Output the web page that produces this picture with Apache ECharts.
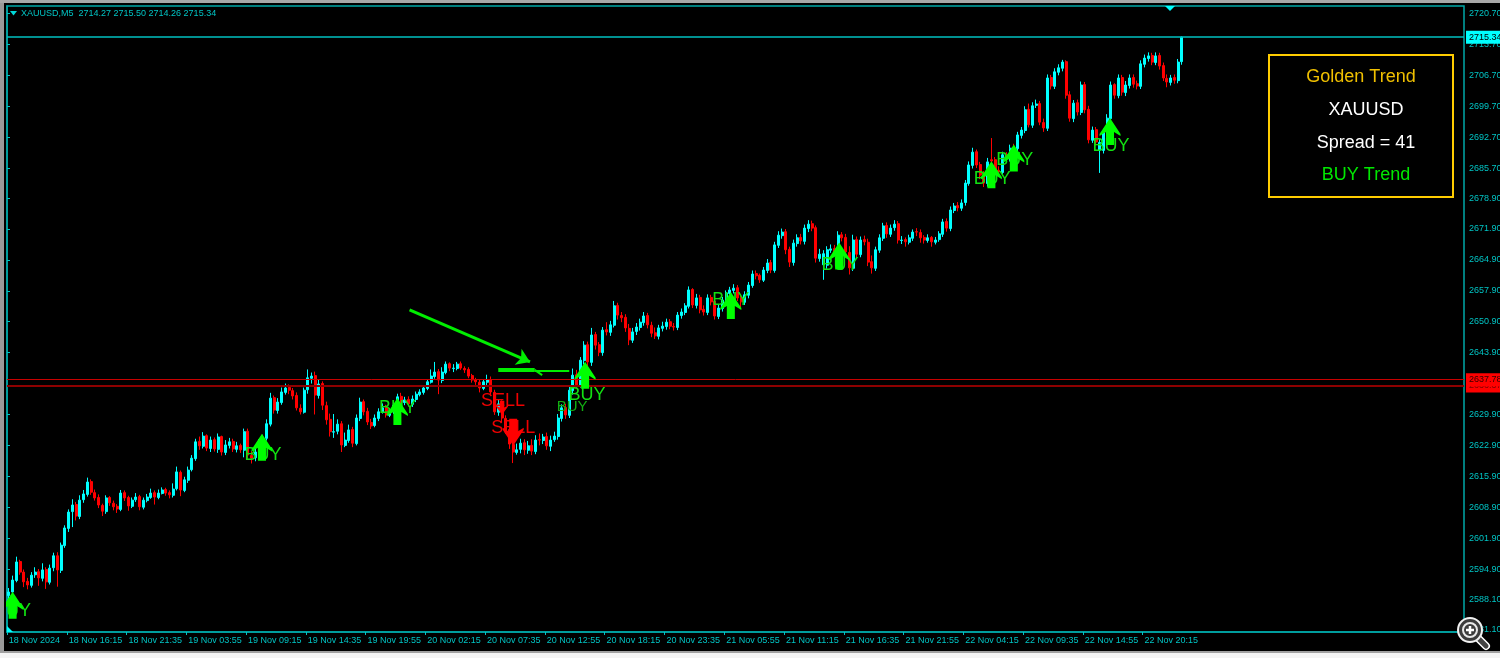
<!DOCTYPE html>
<html>
<head>
<meta charset="utf-8">
<style>
html, body { margin: 0; padding: 0; background: #000; }
#main { width: 1500px; height: 658px; }
</style>
<script src="https://cdn.jsdelivr.net/npm/echarts@6/dist/echarts.min.js"></script>
</head>
<body>
<div id="main"></div>
<script>
// one candle here stands for four M5 bars of the original, sixteen per date label
var dateLabels = ['18 Nov 2024', '18 Nov 16:15', '18 Nov 21:35', '19 Nov 03:55', '19 Nov 09:15', '19 Nov 14:35', '19 Nov 19:55',
    '20 Nov 02:15', '20 Nov 07:35', '20 Nov 12:55', '20 Nov 18:15', '20 Nov 23:35', '21 Nov 05:55', '21 Nov 11:15', '21 Nov 16:35',
    '21 Nov 21:55', '22 Nov 04:15', '22 Nov 09:35', '22 Nov 14:55', '22 Nov 20:15'];
var priceTicks = [2720.7, 2713.7, 2706.7, 2699.7, 2692.7, 2685.7, 2678.9, 2671.9, 2664.9, 2657.9, 2650.9, 2643.9,
    2629.9, 2622.9, 2615.9, 2608.9, 2601.9, 2594.9, 2588.1, 2581.1];

var closes = [
    2589.7, 2592.4, 2596.5, 2594.2, 2592.0, 2591.3, 2593.5, 2594.2, 2592.9, 2594.7, 2592.0, 2595.1, 2597.9, 2594.7, 2600.3, 2604.2,
    2607.8, 2609.4, 2606.9, 2610.5, 2611.9, 2614.6, 2612.3, 2611.0, 2609.4, 2608.0, 2611.0, 2609.9, 2609.0, 2608.5, 2612.1, 2611.0,
    2609.2, 2610.5, 2611.2, 2609.0, 2610.5, 2611.2, 2612.1, 2611.2, 2612.1, 2612.8, 2612.1, 2611.7, 2613.0, 2616.9, 2612.8, 2615.1,
    2617.3, 2620.0, 2623.7, 2622.8, 2625.0, 2622.3, 2624.1, 2622.1, 2624.8, 2621.4, 2623.0, 2623.7, 2622.1, 2622.8, 2621.9, 2626.0,
    2620.7, 2620.0, 2621.4, 2623.0, 2624.6, 2627.8, 2633.6, 2630.9, 2632.7, 2635.0, 2635.9, 2635.4, 2634.1, 2631.4, 2630.5, 2635.4,
    2638.2, 2638.6, 2634.3, 2636.8, 2632.0, 2628.7, 2626.0, 2626.0, 2627.7, 2623.0, 2624.1, 2626.4, 2623.4, 2629.1, 2632.7, 2630.5,
    2628.2, 2627.3, 2629.1, 2630.5, 2631.4, 2629.8, 2630.5, 2632.0, 2633.9, 2632.7, 2633.2, 2632.3, 2633.4, 2634.5, 2635.0, 2635.9,
    2637.3, 2638.6, 2639.5, 2637.7, 2639.5, 2641.3, 2640.4, 2640.4, 2641.3, 2640.4, 2640.0, 2638.6, 2637.7, 2637.3, 2635.9, 2637.3,
    2637.7, 2635.0, 2630.5, 2632.3, 2629.1, 2626.4, 2623.2, 2621.4, 2621.9, 2623.4, 2621.9, 2622.8, 2621.6, 2624.1, 2624.1, 2624.8,
    2622.8, 2624.1, 2625.0, 2629.1, 2631.4, 2629.8, 2635.4, 2638.8, 2636.6, 2642.2, 2645.6, 2641.8, 2647.9, 2645.6, 2644.0, 2649.0,
    2648.6, 2650.2, 2654.5, 2652.4, 2651.8, 2649.5, 2646.8, 2648.6, 2649.7, 2650.8, 2652.2, 2650.2, 2648.3, 2647.7, 2649.5, 2649.9,
    2650.8, 2649.9, 2649.7, 2652.4, 2653.1, 2654.5, 2658.1, 2654.7, 2656.3, 2653.6, 2653.1, 2656.3, 2655.4, 2652.2, 2654.0, 2655.8,
    2657.4, 2658.1, 2658.5, 2656.3, 2655.4, 2657.0, 2659.2, 2661.7, 2661.3, 2660.4, 2662.6, 2664.2, 2662.6, 2668.3, 2670.5, 2671.2,
    2667.2, 2664.4, 2668.7, 2669.9, 2669.2, 2672.1, 2673.0, 2672.1, 2665.3, 2666.2, 2666.3, 2667.2, 2667.4, 2666.7, 2670.5, 2669.9,
    2666.7, 2663.1, 2669.4, 2666.2, 2669.4, 2669.0, 2664.4, 2663.1, 2667.2, 2669.9, 2672.6, 2670.8, 2672.1, 2673.0, 2669.4, 2669.4,
    2669.0, 2669.9, 2671.2, 2671.2, 2669.9, 2669.4, 2669.9, 2669.0, 2669.4, 2670.8, 2673.5, 2672.1, 2676.2, 2677.1, 2676.7, 2677.8,
    2682.3, 2686.4, 2689.3, 2686.4, 2684.1, 2682.3, 2687.1, 2687.3, 2685.3, 2684.8, 2688.7, 2688.0, 2690.2, 2690.2, 2693.2, 2694.3,
    2698.9, 2695.5, 2699.8, 2700.2, 2696.1, 2694.8, 2706.1, 2704.3, 2707.5, 2708.4, 2709.7, 2702.2, 2697.0, 2700.4, 2698.4, 2704.5,
    2698.9, 2692.1, 2694.3, 2691.6, 2691.5, 2693.9, 2697.0, 2704.5, 2702.2, 2706.1, 2702.9, 2704.5, 2706.1, 2704.7, 2704.3, 2709.3,
    2710.6, 2711.1, 2709.7, 2711.1, 2708.8, 2706.1, 2705.2, 2706.1, 2705.6, 2709.7, 2715.34
];
var opens = [
    2588.9, 2589.7, 2592.3, 2596.6, 2594.2, 2592.1, 2591.2, 2593.6, 2594.3, 2592.8, 2594.8, 2591.9, 2595.2, 2597.9, 2594.6, 2600.2,
    2604.1, 2607.9, 2609.5, 2606.8, 2610.6, 2611.8, 2614.7, 2612.2, 2611.1, 2609.3, 2607.9, 2611.1, 2609.8, 2609.1, 2608.4, 2612.2,
    2611.1, 2609.1, 2610.6, 2611.3, 2608.9, 2610.4, 2611.1, 2612.2, 2611.1, 2612.0, 2612.9, 2612.2, 2611.6, 2613.1, 2616.8, 2612.7,
    2615.0, 2617.4, 2619.9, 2623.8, 2622.7, 2625.1, 2622.2, 2624.2, 2622.0, 2624.9, 2621.3, 2622.9, 2623.8, 2622.0, 2622.9, 2621.8,
    2626.1, 2620.6, 2620.1, 2621.3, 2622.9, 2624.5, 2627.7, 2633.7, 2630.8, 2632.6, 2634.9, 2636.0, 2635.3, 2634.2, 2631.3, 2630.4,
    2635.5, 2638.1, 2638.7, 2634.2, 2636.9, 2631.9, 2628.8, 2625.9, 2626.1, 2627.8, 2622.9, 2624.0, 2626.5, 2623.3, 2629.0, 2632.8,
    2630.6, 2628.1, 2627.4, 2629.0, 2630.4, 2631.5, 2629.7, 2630.6, 2631.9, 2634.0, 2632.6, 2633.3, 2632.2, 2633.3, 2634.4, 2634.9,
    2635.8, 2637.2, 2638.5, 2639.6, 2637.6, 2639.4, 2641.4, 2640.3, 2640.3, 2641.4, 2640.3, 2640.1, 2638.7, 2637.8, 2637.2, 2635.8,
    2637.2, 2637.8, 2634.9, 2630.4, 2632.4, 2629.0, 2626.5, 2623.1, 2621.3, 2622.0, 2623.5, 2621.8, 2622.9, 2621.5, 2624.2, 2624.0,
    2624.9, 2622.7, 2624.2, 2624.9, 2629.0, 2631.5, 2629.7, 2635.3, 2638.9, 2636.5, 2642.1, 2645.7, 2641.7, 2648.0, 2645.7, 2643.9,
    2649.1, 2648.5, 2650.1, 2654.6, 2652.3, 2651.9, 2649.4, 2646.7, 2648.7, 2649.6, 2650.7, 2652.3, 2650.1, 2648.4, 2647.6, 2649.4,
    2649.8, 2650.9, 2649.8, 2649.6, 2652.3, 2653.0, 2654.4, 2658.2, 2654.6, 2656.4, 2653.7, 2653.0, 2656.4, 2655.5, 2652.1, 2653.9,
    2655.7, 2657.3, 2658.0, 2658.6, 2656.4, 2655.3, 2656.9, 2659.1, 2661.8, 2661.4, 2660.3, 2662.5, 2664.3, 2662.5, 2668.2, 2670.4,
    2671.3, 2667.3, 2664.3, 2668.6, 2670.0, 2669.1, 2672.0, 2673.1, 2672.2, 2665.2, 2663.8, 2663.7, 2667.1, 2667.5, 2666.6, 2670.6,
    2670.0, 2666.6, 2663.0, 2669.5, 2666.1, 2669.5, 2668.9, 2664.5, 2663.0, 2667.1, 2669.8, 2672.7, 2670.7, 2672.2, 2673.1, 2669.3,
    2669.5, 2668.9, 2669.8, 2671.3, 2671.1, 2670.0, 2669.3, 2670.0, 2668.9, 2669.5, 2670.7, 2673.6, 2672.0, 2676.1, 2677.2, 2676.6,
    2677.9, 2682.2, 2686.3, 2689.4, 2686.5, 2684.0, 2682.2, 2687.6, 2687.6, 2685.2, 2684.7, 2688.8, 2687.9, 2690.3, 2690.1, 2693.1,
    2694.2, 2699.0, 2695.4, 2699.9, 2700.3, 2696.0, 2694.7, 2706.2, 2704.2, 2707.4, 2708.3, 2709.8, 2702.3, 2696.9, 2700.5, 2698.3,
    2704.6, 2699.0, 2692.0, 2694.4, 2689.8, 2689.7, 2693.8, 2696.9, 2704.6, 2702.1, 2706.2, 2702.8, 2704.4, 2706.2, 2704.8, 2704.2,
    2709.2, 2710.5, 2711.2, 2709.6, 2711.2, 2708.9, 2706.0, 2705.1, 2706.2, 2705.5, 2709.8
];
var highs = [
    2590.6, 2593.4, 2597.7, 2597.0, 2594.8, 2592.9, 2594.2, 2595.3, 2594.9, 2596.2, 2595.3, 2595.9, 2598.6, 2598.7, 2600.9, 2604.8,
    2608.4, 2610.7, 2610.1, 2611.6, 2612.8, 2615.6, 2615.2, 2612.9, 2611.8, 2609.7, 2611.6, 2611.4, 2610.4, 2609.6, 2612.8, 2612.7,
    2611.5, 2611.1, 2612.1, 2611.7, 2611.1, 2611.9, 2613.1, 2612.7, 2612.9, 2613.4, 2613.3, 2612.7, 2614.3, 2618.1, 2617.2, 2615.8,
    2618.1, 2620.7, 2624.4, 2624.9, 2625.9, 2625.4, 2624.9, 2624.7, 2625.6, 2625.1, 2624.1, 2624.6, 2624.4, 2623.7, 2623.3, 2626.7,
    2626.7, 2621.6, 2622.2, 2624.3, 2625.3, 2628.8, 2634.8, 2634.2, 2633.6, 2636.0, 2636.9, 2636.7, 2635.9, 2634.9, 2632.2, 2636.0,
    2640.1, 2639.4, 2639.6, 2637.9, 2637.4, 2632.8, 2630.1, 2630.0, 2628.8, 2628.4, 2625.8, 2627.6, 2627.1, 2629.9, 2633.7, 2633.3,
    2631.4, 2628.9, 2629.9, 2631.3, 2632.4, 2632.1, 2631.3, 2632.8, 2634.6, 2634.8, 2633.9, 2634.0, 2634.2, 2635.1, 2635.6, 2636.4,
    2637.9, 2640.1, 2641.8, 2640.2, 2640.6, 2641.9, 2641.7, 2641.3, 2641.8, 2641.9, 2640.8, 2640.6, 2639.1, 2638.2, 2637.8, 2637.9,
    2638.9, 2638.5, 2635.5, 2633.3, 2633.1, 2629.7, 2627.1, 2624.3, 2623.3, 2624.4, 2624.3, 2623.9, 2624.3, 2625.2, 2625.6, 2625.5,
    2625.8, 2625.1, 2626.0, 2630.0, 2632.2, 2632.3, 2636.3, 2640.3, 2640.0, 2642.9, 2646.5, 2646.4, 2649.5, 2648.6, 2646.3, 2649.7,
    2650.8, 2651.1, 2655.6, 2655.2, 2653.1, 2652.6, 2650.4, 2649.5, 2650.6, 2651.6, 2653.1, 2652.9, 2650.9, 2649.6, 2650.2, 2650.9,
    2651.6, 2651.5, 2650.6, 2653.1, 2653.9, 2655.1, 2658.9, 2658.5, 2657.2, 2657.0, 2654.6, 2657.1, 2657.0, 2656.2, 2654.7, 2656.5,
    2658.0, 2658.8, 2659.4, 2659.2, 2657.1, 2657.8, 2659.9, 2662.5, 2662.5, 2661.8, 2663.3, 2665.1, 2664.9, 2669.0, 2671.4, 2672.0,
    2671.9, 2667.9, 2669.5, 2670.7, 2670.8, 2672.9, 2673.9, 2673.8, 2672.7, 2667.4, 2667.1, 2668.0, 2668.4, 2668.3, 2671.4, 2671.2,
    2670.8, 2668.0, 2670.6, 2670.2, 2670.2, 2670.4, 2669.7, 2665.9, 2667.9, 2670.7, 2673.3, 2673.4, 2672.9, 2673.9, 2673.7, 2670.3,
    2670.0, 2670.6, 2671.8, 2672.1, 2671.8, 2670.5, 2670.7, 2670.3, 2670.1, 2671.4, 2674.2, 2674.3, 2677.0, 2677.8, 2678.0, 2678.6,
    2683.0, 2687.2, 2690.3, 2689.9, 2687.1, 2685.0, 2688.0, 2692.5, 2688.2, 2686.1, 2689.4, 2689.3, 2691.0, 2691.2, 2693.9, 2695.0,
    2699.7, 2700.3, 2700.6, 2701.2, 2700.9, 2696.9, 2706.9, 2706.8, 2708.3, 2709.2, 2710.2, 2710.1, 2703.1, 2701.1, 2701.2, 2705.3,
    2705.2, 2699.8, 2695.1, 2695.0, 2692.3, 2694.6, 2697.9, 2705.3, 2704.9, 2706.9, 2706.8, 2705.4, 2706.9, 2706.9, 2705.5, 2710.1,
    2711.4, 2711.9, 2711.8, 2711.9, 2711.8, 2709.6, 2706.9, 2706.8, 2706.9, 2710.4, 2715.5
];
var lows = [
    2587.9, 2589.2, 2591.9, 2593.6, 2590.8, 2590.3, 2590.7, 2592.9, 2591.1, 2592.1, 2590.4, 2591.4, 2594.4, 2590.9, 2594.0, 2599.7,
    2603.3, 2604.4, 2605.9, 2606.2, 2609.9, 2611.3, 2611.7, 2610.4, 2608.7, 2606.9, 2607.4, 2609.2, 2608.2, 2607.6, 2608.0, 2610.3,
    2608.1, 2608.7, 2610.1, 2608.2, 2608.4, 2610.0, 2610.8, 2609.5, 2610.7, 2611.8, 2611.5, 2610.9, 2611.1, 2612.7, 2611.4, 2612.3,
    2614.4, 2617.0, 2619.4, 2621.9, 2622.2, 2621.6, 2621.4, 2621.5, 2621.2, 2620.6, 2620.7, 2622.2, 2621.4, 2621.3, 2621.2, 2620.2,
    2619.9, 2618.8, 2619.3, 2620.4, 2622.4, 2624.0, 2627.2, 2630.1, 2630.1, 2632.1, 2634.4, 2634.5, 2633.3, 2630.8, 2629.9, 2630.1,
    2634.6, 2636.9, 2629.9, 2633.5, 2630.9, 2627.6, 2624.9, 2624.6, 2625.4, 2621.4, 2622.5, 2623.5, 2622.5, 2622.9, 2628.4, 2629.7,
    2627.5, 2626.6, 2627.0, 2628.4, 2630.1, 2629.2, 2629.3, 2630.0, 2631.3, 2631.9, 2632.0, 2631.7, 2631.6, 2632.7, 2634.0, 2634.4,
    2635.4, 2636.9, 2638.0, 2634.5, 2637.0, 2639.0, 2639.7, 2639.5, 2639.9, 2640.0, 2639.3, 2638.1, 2637.1, 2636.6, 2634.9, 2635.4,
    2636.5, 2634.3, 2629.8, 2629.6, 2628.1, 2625.5, 2622.1, 2618.9, 2620.8, 2621.1, 2620.7, 2621.0, 2620.7, 2620.9, 2622.9, 2623.2,
    2621.9, 2621.6, 2623.7, 2624.2, 2628.3, 2628.9, 2629.1, 2634.4, 2635.8, 2636.0, 2641.2, 2640.7, 2640.9, 2644.6, 2643.1, 2643.2,
    2647.8, 2647.7, 2649.6, 2651.4, 2650.8, 2648.6, 2645.6, 2646.1, 2647.9, 2648.9, 2650.0, 2649.4, 2647.4, 2647.0, 2646.9, 2648.7,
    2649.1, 2649.2, 2648.9, 2649.0, 2651.6, 2652.4, 2653.9, 2654.0, 2653.9, 2652.8, 2652.3, 2652.4, 2654.6, 2651.4, 2651.5, 2653.2,
    2655.0, 2656.6, 2657.3, 2655.6, 2654.2, 2654.7, 2656.2, 2658.6, 2660.5, 2659.7, 2659.9, 2661.9, 2661.9, 2662.0, 2667.6, 2669.7,
    2666.2, 2663.3, 2663.6, 2667.9, 2668.4, 2668.4, 2671.2, 2671.4, 2664.3, 2664.5, 2660.4, 2662.9, 2666.5, 2665.9, 2666.0, 2669.1,
    2665.9, 2661.6, 2662.4, 2665.4, 2665.5, 2668.2, 2663.5, 2661.8, 2662.4, 2666.5, 2669.2, 2669.9, 2670.1, 2671.5, 2668.6, 2668.5,
    2667.9, 2668.4, 2669.2, 2670.3, 2668.8, 2668.6, 2668.8, 2667.9, 2668.4, 2669.0, 2670.1, 2671.3, 2671.4, 2675.5, 2675.9, 2676.0,
    2677.2, 2681.7, 2685.6, 2685.7, 2683.2, 2681.4, 2681.5, 2686.6, 2684.5, 2683.9, 2684.0, 2687.2, 2687.2, 2689.4, 2689.4, 2692.4,
    2693.6, 2694.9, 2694.8, 2699.3, 2695.4, 2693.9, 2694.1, 2703.5, 2703.6, 2706.7, 2707.6, 2701.4, 2696.2, 2696.1, 2697.6, 2697.7,
    2698.1, 2691.3, 2691.4, 2690.8, 2684.6, 2689.0, 2693.1, 2696.3, 2701.4, 2701.5, 2702.1, 2702.0, 2703.7, 2703.9, 2703.5, 2703.6,
    2708.5, 2709.8, 2709.0, 2709.0, 2708.0, 2705.4, 2704.0, 2704.4, 2704.8, 2704.9, 2709.1
];

// signals: x is the M5 bar number, y is the price at the middle of the arrow
var buyArrowBars = [6, 273, 418, 619, 775, 891, 1054, 1078, 1181];
var buyArrowPrices = [2586.7, 2622.5, 2630.6, 2638.8, 2654.6, 2665.8, 2684.2, 2688.0, 2694.0];
var buyLabelBars = [6, 274, 418, 621, 775, 892, 1055, 1079, 1182];
var buyLabelPrices = [2585.4, 2620.7, 2631.4, 2634.3, 2655.8, 2663.8, 2683.2, 2687.5, 2690.7];
var buyGhostLabel = [605, 2631.6];
var sellArrowBars = [542, 530];
var sellArrowPrices = [2625.9, 2631.4];
var sellLabelBars = [542, 531];
var sellLabelPrices = [2626.9, 2633.0];

var lastPrice = 2715.34;
var askLine = 2637.78;
var bidLine = 2636.37;
var totalBars = 1560;
var slotCount = 390;

var barSlots = [];
for (var i = 0; i < slotCount; i++) {
    barSlots.push(String(i));
}
var candles = closes.map(function (c, i) {
    return [opens[i], c, lows[i], highs[i]];
});
function zipPairs(xs, ys) {
    return xs.map(function (x, i) {
        return [x, ys[i]];
    });
}
function hasDate(index) {
    return index % 16 === 0 && index / 16 < dateLabels.length;
}

var teal = '#00a8a8';
var tickText = '#00c4c4';
var fontName = '"Liberation Sans", Arial, sans-serif';
var arrowUp = 'path://M10.5 0 L21 16 L21 18 L14.5 14 L14.5 27 L6.5 27 L6.5 14 L0 18 L0 16 Z';
var arrowDown = 'path://M6.5 0 L14.5 0 L14.5 13 L21 9 L21 11 L10.5 27 L0 11 L0 9 L6.5 13 Z';

function signalLabel(text, color, size) {
    return {
        show: true,
        position: 'inside',
        formatter: text,
        color: color,
        fontSize: size,
        fontFamily: fontName,
        textBorderWidth: 0,
        textBorderColor: 'transparent',
        opacity: 1
    };
}

var myChart = echarts.init(document.getElementById('main'));
var option = {
    animation: false,
    backgroundColor: '#000',
    grid: {
        show: true,
        left: 7,
        top: 6,
        width: 1457,
        height: 626,
        outerBoundsMode: 'none',
        borderColor: teal,
        borderWidth: 1.5,
        backgroundColor: '#000'
    },
    xAxis: [{
        type: 'category',
        data: barSlots,
        boundaryGap: true,
        axisLine: { lineStyle: { color: teal, width: 1.5 } },
        axisTick: { show: true, length: 3, interval: hasDate, lineStyle: { color: tickText } },
        axisLabel: {
            interval: hasDate,
            align: 'left',
            margin: 4,
            color: tickText,
            fontSize: 9,
            fontFamily: fontName,
            formatter: function (value, index) {
                return hasDate(index) ? dateLabels[index / 16] : '';
            }
        },
        splitLine: { show: false }
    }, {
        type: 'value',
        min: 0,
        max: totalBars,
        show: false
    }],
    yAxis: {
        type: 'value',
        position: 'right',
        min: 2580.64,
        max: 2722.4,
        axisLine: { show: true, lineStyle: { color: teal, width: 1.5 } },
        axisTick: { show: true, length: 3, customValues: priceTicks, lineStyle: { color: tickText } },
        axisLabel: {
            customValues: priceTicks,
            margin: 5,
            color: tickText,
            fontSize: 9,
            fontFamily: fontName,
            formatter: function (value) {
                return value.toFixed(2);
            }
        },
        splitLine: { show: false }
    },
    series: [{
        name: 'XAUUSD,M5',
        type: 'candlestick',
        data: candles,
        barWidth: 2.5,
        itemStyle: {
            color: '#00ffff',
            color0: '#ff0000',
            borderColor: '#00ffff',
            borderColor0: '#ff0000',
            borderWidth: 1
        },
        markLine: {
            silent: true,
            symbol: 'none',
            animation: false,
            precision: 2,
            data: [{
                yAxis: lastPrice,
                lineStyle: { color: '#00c0c0', width: 1.5, type: 'solid' },
                label: { position: 'end', distance: 2, color: '#000', backgroundColor: '#00ffff', padding: [2, 3], fontSize: 9, fontFamily: fontName, formatter: '2715.34' }
            }, {
                yAxis: bidLine,
                lineStyle: { color: '#8e0000', width: 2, type: 'solid' },
                label: { position: 'end', distance: 2, color: '#7a0000', backgroundColor: '#ff0000', padding: [2, 3], fontSize: 9, fontFamily: fontName, formatter: '2636.37' }
            }, {
                yAxis: askLine,
                lineStyle: { color: '#c80000', width: 1, type: 'solid' },
                label: { position: 'end', distance: 2, color: '#300', backgroundColor: '#ff0000', padding: [2, 3], fontSize: 9, fontFamily: fontName, formatter: '2637.78' }
            }]
        }
    }, {
        name: 'BUY labels',
        type: 'scatter',
        xAxisIndex: 1,
        symbolSize: 1,
        itemStyle: { color: 'transparent', opacity: 1 },
        data: zipPairs(buyLabelBars, buyLabelPrices),
        label: signalLabel('BUY', '#12e012', 18),
        z: 5
    }, {
        name: 'BUY small label',
        type: 'scatter',
        xAxisIndex: 1,
        symbolSize: 1,
        itemStyle: { color: 'transparent', opacity: 1 },
        data: [buyGhostLabel],
        label: signalLabel('BUY', '#12b012', 15),
        z: 5
    }, {
        name: 'SELL labels',
        type: 'scatter',
        xAxisIndex: 1,
        symbolSize: 1,
        itemStyle: { color: 'transparent', opacity: 1 },
        data: zipPairs(sellLabelBars, sellLabelPrices),
        label: signalLabel('SELL', '#f00000', 18),
        z: 5
    }, {
        name: 'BUY arrows',
        type: 'scatter',
        xAxisIndex: 1,
        symbol: arrowUp,
        symbolSize: [21, 27],
        symbolKeepAspect: false,
        itemStyle: { color: '#00ff00', opacity: 1 },
        data: zipPairs(buyArrowBars, buyArrowPrices),
        z: 6
    }, {
        name: 'SELL arrows',
        type: 'scatter',
        xAxisIndex: 1,
        symbol: arrowDown,
        symbolSize: function (value, params) {
            return params.dataIndex === 0 ? [21, 27] : [12, 14];
        },
        itemStyle: { color: '#ff0000', opacity: 1 },
        data: zipPairs(sellArrowBars, sellArrowPrices),
        z: 6
    }, {
        // the hand drawn arrow on the chart
        name: 'Drawing',
        type: 'scatter',
        xAxisIndex: 1,
        data: [],
        markLine: {
            silent: true,
            animation: false,
            label: { show: false },
            data: [
                [{ coord: [431, 2653.6], symbol: 'none', lineStyle: { color: '#00ee00', width: 3, type: 'solid' } }, { coord: [560, 2641.8], symbol: 'arrow', symbolSize: 13 }],
                [{ coord: [526, 2640.0], symbol: 'none', lineStyle: { color: '#00ee00', width: 4, type: 'solid' } }, { coord: [565, 2640.0], symbol: 'none' }],
                [{ coord: [565, 2639.9], symbol: 'none', lineStyle: { color: '#00ee00', width: 2, type: 'solid' } }, { coord: [602, 2639.9], symbol: 'none' }],
                [{ coord: [565, 2640.0], symbol: 'none', lineStyle: { color: '#00ee00', width: 2, type: 'solid' } }, { coord: [573, 2638.8], symbol: 'none' }]
            ]
        },
        z: 7
    }],
    graphic: [
        // window frame of the terminal
        { type: 'rect', z: 100, shape: { x: 0, y: 0, width: 6, height: 652 }, style: { fill: '#000' } },
        { type: 'rect', z: 101, shape: { x: 0, y: 0, width: 4, height: 652 }, style: { fill: '#9a9a9a' } },
        { type: 'rect', z: 101, shape: { x: 0, y: 0, width: 1500, height: 3 }, style: { fill: '#a8a8a8' } },
        { type: 'rect', z: 101, shape: { x: 0, y: 651, width: 1500, height: 7 }, style: { fill: '#f4f4f4' } },
        { type: 'rect', z: 102, shape: { x: 0, y: 651, width: 1500, height: 2 }, style: { fill: '#a0a0a0' } },

        // title and small markers
        { type: 'polygon', z: 50, shape: { points: [[10, 11], [17, 11], [13.5, 15.5]] }, style: { fill: '#00d8d8' } },
        { type: 'text', z: 50, style: { x: 21, y: 9, text: 'XAUUSD,M5  2714.27 2715.50 2714.26 2715.34', fill: '#00c4c4', font: '9px ' + fontName } },
        { type: 'polygon', z: 50, shape: { points: [[1165, 6], [1175, 6], [1170, 11]] }, style: { fill: '#00ffff' } },
        { type: 'polygon', z: 50, shape: { points: [[7, 626], [7, 632], [13, 632]] }, style: { fill: '#00ffff' } },

        // info panel
        { type: 'rect', z: 50, shape: { x: 1269, y: 55, width: 184, height: 142 }, style: { fill: 'transparent', stroke: '#ffcc00', lineWidth: 2 } },
        { type: 'text', z: 51, style: { x: 1361, y: 68, text: 'Golden Trend', fill: '#f0c000', font: '18px ' + fontName, textAlign: 'center' } },
        { type: 'text', z: 51, style: { x: 1366, y: 101, text: 'XAUUSD', fill: '#ffffff', font: '18px ' + fontName, textAlign: 'center' } },
        { type: 'text', z: 51, style: { x: 1366, y: 134, text: 'Spread = 41', fill: '#ffffff', font: '18px ' + fontName, textAlign: 'center' } },
        { type: 'text', z: 51, style: { x: 1366, y: 166, text: 'BUY Trend', fill: '#00e800', font: '18px ' + fontName, textAlign: 'center' } },

        // zoom cursor of the screenshot
        { type: 'line', z: 110, shape: { x1: 1478, y1: 638, x2: 1486, y2: 646 }, style: { stroke: '#ffffff', lineWidth: 8, lineCap: 'round' } },
        { type: 'line', z: 111, shape: { x1: 1479, y1: 639, x2: 1486, y2: 646 }, style: { stroke: '#444444', lineWidth: 5, lineCap: 'round' } },
        { type: 'circle', z: 112, shape: { cx: 1470, cy: 630, r: 12 }, style: { fill: '#3c3c3c', stroke: '#f0f0f0', lineWidth: 2 } },
        { type: 'circle', z: 113, shape: { cx: 1470, cy: 630, r: 7 }, style: { fill: 'transparent', stroke: '#e8e8e8', lineWidth: 2 } },
        { type: 'line', z: 114, shape: { x1: 1466, y1: 630, x2: 1474, y2: 630 }, style: { stroke: '#ffffff', lineWidth: 2.5 } },
        { type: 'line', z: 114, shape: { x1: 1470, y1: 626, x2: 1470, y2: 634 }, style: { stroke: '#ffffff', lineWidth: 2.5 } }
    ]
};
myChart.setOption(option);
</script>
</body>
</html>
